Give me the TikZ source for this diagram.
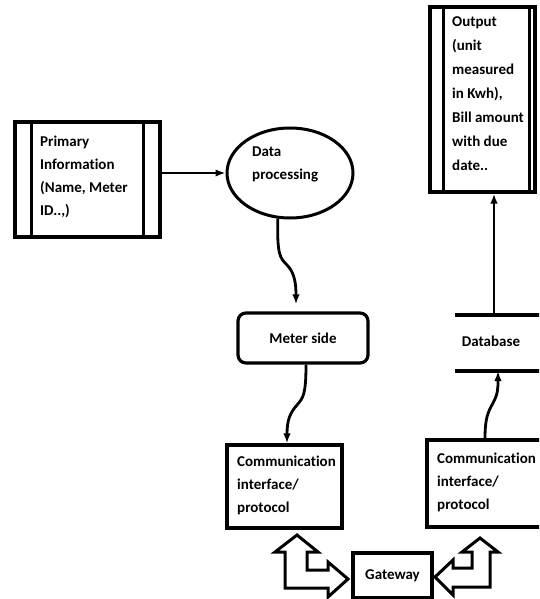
\documentclass[tikz,border=0pt]{standalone}
\usepackage{fontspec}
\setmainfont[Ligatures=NoCommon]{Carlito}
\usetikzlibrary{arrows.meta,shapes.geometric,calc}
\begin{document}
\begin{tikzpicture}[x=1pt,y=-1pt,
  bx/.style={draw, line width=3.2pt, inner sep=0pt},
  fnt/.style={font=\bfseries\fontsize{15}{23}\selectfont},
  txt/.style={fnt, align=left, inner sep=0pt},
  ln/.style={line width=3.2pt},
  arr/.style={line width=2.8pt, -{Latex[length=10pt,width=7.5pt]}},
  blk/.style={draw, line width=3pt, line join=miter, fill=white}]
\useasboundingbox (0,0) rectangle (539,599);
\clip (0,0) rectangle (539,599);

% Primary information
\node[bx, minimum width=145pt, minimum height=115pt] (prim) at (87.5,179.5) {};
\draw[ln] ([xshift=18pt]prim.north west) -- ([xshift=18pt]prim.south west);
\draw[ln] ([xshift=-18pt]prim.north east) -- ([xshift=-18pt]prim.south east);
\node[txt, anchor=north west] (primt) at (40,136) {Primary\\Information\\(Name, Meter\\ID..,)};

% Data processing
\node[draw, ellipse, line width=3pt, minimum width=126pt, minimum height=90pt, inner sep=0pt] (dp) at (290,173) {};
\node[txt, anchor=north west] (dpt) at (252,147) {Data\\processing};
\draw[arr] (prim.east |- dp.west) -- (dp.west);

% Meter side
\node[bx, fnt, rounded corners=8pt, minimum width=130pt, minimum height=50pt] (ms) at (303,338) {Meter side};
\draw[arr] (dp.255) .. controls (277,255) and (280,258) .. (287,265)
  .. controls (295,273) and (296,285) .. ($(ms.north)+(-7,-7)$);

% Communication left
\node[bx, minimum width=115pt, minimum height=83pt] (cl) at (284.5,486.5) {};
\node[txt, anchor=north west] (clt) at (237,456) {Communication\\interface/\\protocol};
\draw[arr] ($(ms.south)+(3,0)$) .. controls (306,395) and (303,398) .. (297,405)
  .. controls (290,413) and (287,420) .. ($(cl.north)+(2.5,0)$);

% Communication right
\node[bx, minimum width=123pt, minimum height=87pt] (cr) at (488.5,483.5) {};
\node[txt, anchor=north west] (crt) at (437,453) {Communication\\interface/\\protocol};

% Database
\coordinate (dbtl) at (455,315);
\coordinate (dbtr) at (545,315);
\coordinate (dbbl) at (455,371);
\coordinate (dbbr) at (545,371);
\draw[ln] (dbtl) -- (dbtr);
\draw[ln] (dbbl) -- (dbbr);
\node[fnt, inner sep=0pt] (db) at (491,341) {Database};
\coordinate (dbin) at (498,371);
\coordinate (dbout) at (494,315);
\draw[arr] ($(cr.north)+(-3.5,0)$) .. controls (485,418) and (488,412) .. (493,403)
  .. controls (498,394) and (498,388) .. (dbin);

% Output
\node[bx, minimum width=105pt, minimum height=185pt] (out) at (482.5,99.5) {};
\draw[ln] ([xshift=15pt]out.north west) -- ([xshift=15pt]out.south west);
\draw[ln] ([xshift=-7pt]out.north east) -- ([xshift=-7pt]out.south east);
\node[txt, font=\bfseries\fontsize{15}{24}\selectfont, anchor=north west] (outt) at (452,16)
  {Output\\(unit\\measured\\in Kwh),\\Bill amount\\with due\\date..};
\draw[arr] (dbout) -- (out.south -| dbout);

% Gateway
\node[bx, fnt, minimum width=79pt, minimum height=45pt] (gw) at (392.5,575.5) {Gateway};

% Block arrows
\draw[blk] (297,535) -- (318,552) -- (307,552) -- (307,570) -- (328,570) -- (328,562)
  -- (348,579) -- (328,597) -- (328,588) -- (285,588) -- (285,552) -- (275,552) -- cycle;
\draw[blk] (480,538) -- (498,552) -- (490,552) -- (490,587) -- (453,587) -- (453,595)
  -- (435,577) -- (453,560) -- (453,568) -- (472,568) -- (472,552) -- (462,552) -- cycle;
\end{tikzpicture}
\end{document}
